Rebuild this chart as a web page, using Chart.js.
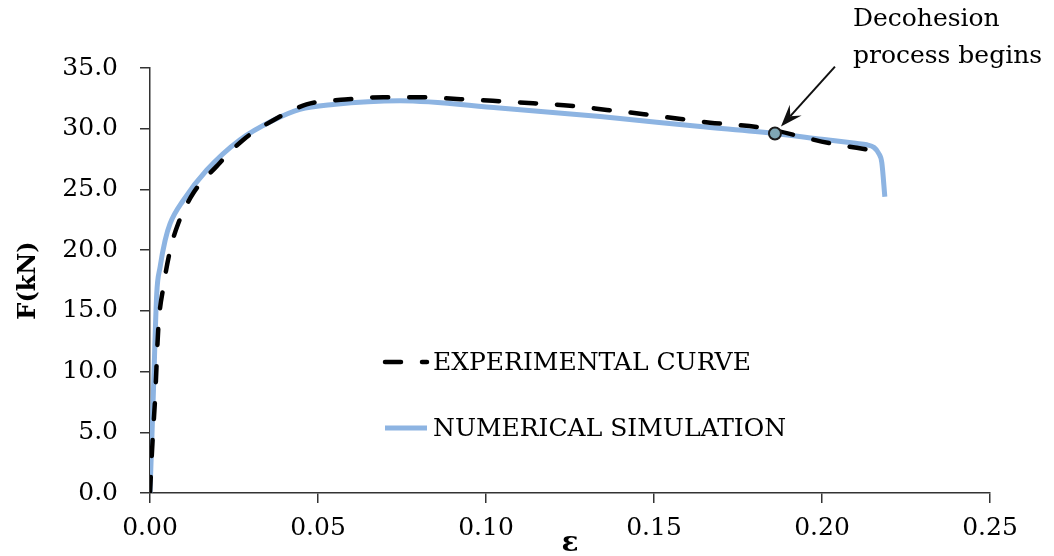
<!DOCTYPE html>
<html>
<head>
<meta charset="utf-8">
<script src="https://cdn.jsdelivr.net/npm/chart.js@4.4.1/dist/chart.umd.min.js"></script>
<style>
  html, body { margin: 0; padding: 0; background: #fff; }
</style>
</head>
<body>
<canvas id="chart" width="1054" height="556"></canvas>
<script>
// experimental curve (strain, force in kN)
const expStrain = [0, 0.0008, 0.0015, 0.0025, 0.004, 0.006, 0.0084, 0.0129, 0.0198, 0.0278, 0.0367, 0.0466,
    0.058, 0.0694, 0.080, 0.0913, 0.102, 0.114, 0.125, 0.136, 0.147, 0.158, 0.1667, 0.1815, 0.2024, 0.2143];
const expForce = [0, 4.5, 7.7, 13.7, 17.0, 20.0, 22.2, 24.7, 26.9, 29.1, 30.7, 32.0,
    32.4, 32.6, 32.6, 32.45, 32.3, 32.1, 31.9, 31.55, 31.2, 30.8, 30.5, 30.1, 28.8, 28.25];

// numerical simulation
const simStrain = [0, 0.001, 0.002, 0.003, 0.0045, 0.006, 0.0099, 0.0169, 0.0268, 0.0367, 0.0446, 0.0545,
    0.0744, 0.104, 0.134, 0.163, 0.186, 0.200, 0.210, 0.2133, 0.2155, 0.2168, 0.2178, 0.2187];
const simForce = [0, 8.2, 16.4, 18.6, 20.8, 22.2, 24.1, 26.6, 29.1, 30.7, 31.6, 32.0,
    32.3, 31.7, 31.0, 30.2, 29.6, 29.13, 28.8, 28.68, 28.45, 28.0, 27.2, 24.4];

// decohesion start point
const decoStrain = [0.186];
const decoForce = [29.6];
const decoText = ['Decohesion', 'process begins'];

const seriesLabels = ['EXPERIMENTAL CURVE', 'NUMERICAL SIMULATION'];

const serif = "'DejaVu Serif', serif";

const toPoints = (xs, ys) => xs.map((x, i) => ({x: x, y: ys[i]}));

// legend drawn inside the plot, like the original
const innerLegend = {
    id: 'innerLegend',
    afterDatasetsDraw(chart) {
        const ctx = chart.ctx;
        const area = chart.chartArea;
        const x0 = area.left + 233;
        const rows = [area.top + 294, area.top + 360];
        ctx.save();
        ctx.font = '25px ' + serif;
        ctx.fillStyle = '#000';
        ctx.textBaseline = 'middle';
        [1, 2].forEach((dsIndex, i) => {
            const ds = chart.data.datasets[dsIndex];
            ctx.beginPath();
            ctx.strokeStyle = ds.borderColor;
            ctx.lineWidth = ds.borderWidth;
            ctx.lineCap = ds.borderCapStyle || 'butt';
            ctx.setLineDash(ds.borderDash || []);
            ctx.moveTo(x0 + 2, rows[i]);
            ctx.lineTo(x0 + 44, rows[i]);
            ctx.stroke();
            ctx.setLineDash([]);
            ctx.fillText(ds.label, x0 + 50, rows[i] + 1);
        });
        ctx.restore();
    }
};

// arrow + text pointing at the decohesion point
const decoNote = {
    id: 'decoNote',
    afterDatasetsDraw(chart) {
        const ctx = chart.ctx;
        const px = chart.scales.x.getPixelForValue(decoStrain[0]);
        const py = chart.scales.y.getPixelForValue(decoForce[0]);
        const tx = px + 60, ty = py - 67;
        const hx = px + 6, hy = py - 7;
        const ang = Math.atan2(hy - ty, hx - tx);
        const c = Math.cos(ang), s = Math.sin(ang);
        ctx.save();
        ctx.strokeStyle = '#111';
        ctx.fillStyle = '#111';
        ctx.lineWidth = 2;
        ctx.beginPath();
        ctx.moveTo(tx, ty);
        ctx.lineTo(hx - 14 * c, hy - 14 * s);
        ctx.stroke();
        ctx.beginPath();
        ctx.moveTo(hx, hy);
        ctx.lineTo(hx - 22 * c + 8 * s, hy - 22 * s - 8 * c);
        ctx.lineTo(hx - 14 * c, hy - 14 * s);
        ctx.lineTo(hx - 22 * c - 8 * s, hy - 22 * s + 8 * c);
        ctx.closePath();
        ctx.fill();
        ctx.font = '25px ' + serif;
        ctx.fillStyle = '#000';
        ctx.textBaseline = 'middle';
        ctx.fillText(decoText[0], px + 78, py - 114);
        ctx.fillText(decoText[1], px + 78, py - 77);
        ctx.restore();
    }
};

const options = {
    responsive: false,
    animation: false,
    layout: {padding: {top: 68, right: 64, left: 0, bottom: 0}},
    plugins: {
        legend: {display: false},
        tooltip: {enabled: false}
    },
    scales: {
        x: {
            type: 'linear',
            min: 0,
            max: 0.25,
            afterFit: (scale) => { scale.height = 63; },
            ticks: {
                stepSize: 0.05,
                callback: (v) => v.toFixed(2),
                font: {family: serif, size: 25},
                color: '#000',
                padding: 10,
                maxRotation: 0
            },
            grid: {drawOnChartArea: false, tickLength: 10, color: '#333', lineWidth: 1.5},
            border: {color: '#333', width: 1.5},
            title: {
                display: true,
                text: 'ε',
                font: {family: serif, size: 28, weight: 'bold', lineHeight: 0.9},
                color: '#000',
                padding: 0
            }
        },
        y: {
            min: 0,
            max: 35,
            afterFit: (scale) => { scale.width = 150; },
            ticks: {
                stepSize: 5,
                callback: (v) => v.toFixed(1),
                font: {family: serif, size: 25},
                color: '#000',
                padding: 22
            },
            grid: {drawOnChartArea: false, tickLength: 10, color: '#333', lineWidth: 1.5},
            border: {color: '#333', width: 1.5},
            title: {
                display: true,
                text: 'F(kN)',
                font: {family: serif, size: 24, weight: 'bold'},
                color: '#000',
                padding: {top: 14, bottom: 0}
            }
        }
    }
};

new Chart(document.getElementById('chart'), {
    type: 'scatter',
    data: {
        datasets: [
            {
                label: 'decohesion',
                data: toPoints(decoStrain, decoForce),
                pointRadius: 6,
                pointBackgroundColor: '#7fa7b5',
                pointBorderColor: '#1a1a1a',
                pointBorderWidth: 2,
                showLine: false,
                order: 0
            },
            {
                label: seriesLabels[0],
                data: toPoints(expStrain, expForce),
                showLine: true,
                borderColor: '#000',
                borderWidth: 4.5,
                borderDash: [16, 21],
                borderCapStyle: 'round',
                cubicInterpolationMode: 'monotone',
                pointRadius: 0,
                order: 1
            },
            {
                label: seriesLabels[1],
                data: toPoints(simStrain, simForce),
                showLine: true,
                borderColor: '#8db4e2',
                borderWidth: 5,
                cubicInterpolationMode: 'monotone',
                pointRadius: 0,
                order: 2
            }
        ]
    },
    options: options,
    plugins: [innerLegend, decoNote]
});
</script>
</body>
</html>
